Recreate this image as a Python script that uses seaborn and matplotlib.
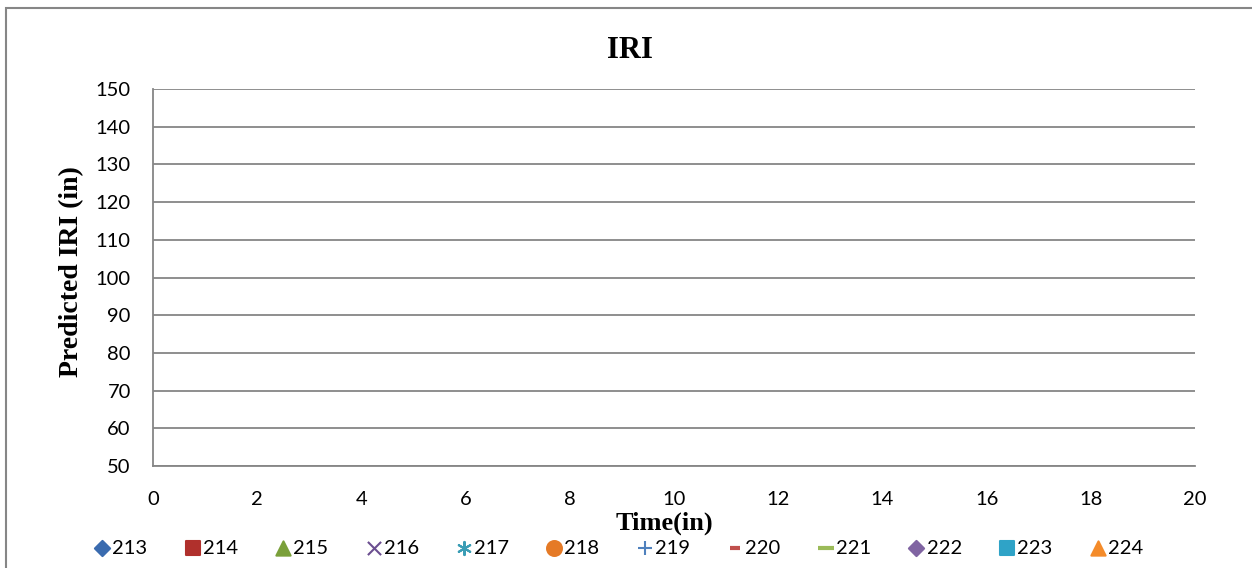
import matplotlib
matplotlib.use("Agg")
import matplotlib.pyplot as plt
import seaborn as sns
import pandas as pd
from matplotlib.patches import Rectangle

# ---- data (the chart contains no plotted points) ----
series_names = ["213", "214", "215", "216", "217", "218",
                "219", "220", "221", "222", "223", "224"]
time_values = []          # x: Time (in)  -- empty in reference
iri_values = []           # y: Predicted IRI (in) -- empty in reference
x_ticks = [0, 2, 4, 6, 8, 10, 12, 14, 16, 18, 20]
y_ticks = [50, 60, 70, 80, 90, 100, 110, 120, 130, 140, 150]

# ---- styles ----
markers = ["D", "s", "^", "x", (6, 2, 0), "o", "+", "_", "_", "D", "s", "^"]
colors = ["#3A6BAF", "#B0302C", "#7AA03A", "#6B4E90", "#3A9DB5", "#E57A26",
          "#4F81BD", "#C0504D", "#9BBB59", "#8064A2", "#2FA3C7", "#F48B2A"]
sizes = [60, 90, 105, 90, 90, 115, 110, 60, 130, 60, 90, 105]

sns.set_theme(style="white")
plt.rcParams["font.family"] = ["Lato", "DejaVu Sans"]
plt.rcParams["text.color"] = "black"

fig = plt.figure(figsize=(12.52, 5.68), dpi=100)
ax = fig.add_axes([153 / 1252, 1 - 466 / 568, (1195 - 153) / 1252, (466 - 89) / 568])

df = pd.DataFrame({"time": pd.Series(time_values, dtype=float),
                   "iri": pd.Series(iri_values, dtype=float)})
sns.scatterplot(data=df, x="time", y="iri", ax=ax)

handles = []
for name, m, c, s in zip(series_names, markers, colors, sizes):
    lw = 3 if m == "_" else 1.5
    h = ax.scatter(df["time"], df["iri"], marker=m, color=c, s=s, label=name,
                   linewidths=lw)
    handles.append(h)

ax.set_xlim(0, 20)
ax.set_ylim(50, 150)
ax.set_xticks(x_ticks)
ax.set_yticks(y_ticks)
ax.tick_params(axis="both", labelsize=14.5, labelcolor="black", color="#868686",
               length=6, width=1.3, direction="out")
ax.tick_params(axis="y", pad=10)
ax.tick_params(axis="x", pad=12)
ax.yaxis.grid(True, color="#868686", linewidth=1.3)
ax.xaxis.grid(False)
for side in ["top", "right"]:
    ax.spines[side].set_visible(False)
for side in ["left", "bottom"]:
    ax.spines[side].set_color("#868686")
    ax.spines[side].set_linewidth(1.3)
ax.set_xlabel("")
ax.set_ylabel("")

serif = ["Liberation Serif", "DejaVu Serif"]
fig.text(630 / 1252, 1 - 50 / 568, "IRI", ha="center", va="center",
         fontsize=22, fontweight="bold", family=serif, color="black")
fig.text(72 / 1252, 1 - 272 / 568, "Predicted IRI (in)", ha="center", va="center",
         rotation=90, fontsize=20, fontweight="bold", family=serif, color="black")
fig.text(664 / 1252, 1 - 523 / 568, "Time(in)", ha="center", va="center",
         fontsize=19, fontweight="bold", family=serif, color="black")

fig.legend(handles=handles, labels=series_names, ncol=12, loc="center",
           bbox_to_anchor=(619 / 1252, 1 - 548 / 568), frameon=False,
           fontsize=14.5, handletextpad=0.15, columnspacing=1.9,
           handlelength=0.7, markerscale=1.0, labelcolor="black")

fig.patches.append(Rectangle((6 / 1252, -0.1), 1.2, 1 - 8 / 568 + 0.1,
                             transform=fig.transFigure, fill=False,
                             edgecolor="#868686", linewidth=1.5))

fig.savefig("out.png", dpi=100, facecolor="white")
